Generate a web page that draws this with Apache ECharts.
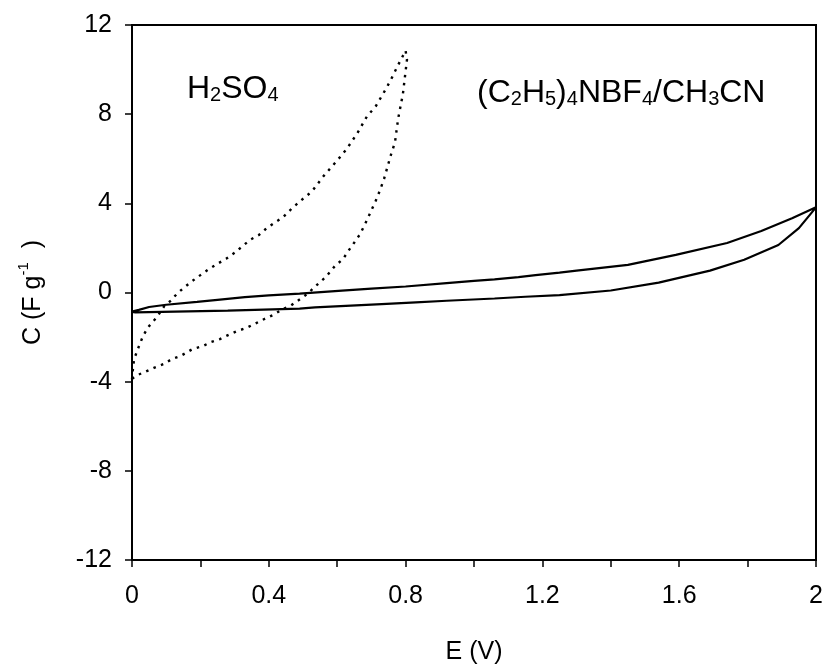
<!DOCTYPE html>
<html>
<head>
<meta charset="utf-8">
<script src="https://cdn.jsdelivr.net/npm/echarts@6/dist/echarts.min.js"></script>
<style>
html,body{margin:0;padding:0;background:#fff;}
#chart{width:827px;height:670px;}
</style>
</head>
<body>
<div id="chart"></div>
<script>
// H2SO4 loop (dotted): forward branch then reverse branch
const h2so4E = [0, 0.003, 0.006, 0.018, 0.032, 0.047, 0.073, 0.094, 0.114, 0.13, 0.149, 0.175, 0.2, 0.222, 0.25, 0.275, 0.3, 0.324, 0.345, 0.371, 0.394, 0.415, 0.442, 0.468, 0.491, 0.526, 0.559, 0.602, 0.628, 0.661, 0.687, 0.713, 0.745, 0.76, 0.778, 0.795, 0.8,
  0.804, 0.792, 0.778, 0.769, 0.757, 0.737, 0.725, 0.713, 0.7, 0.687, 0.667, 0.649, 0.632, 0.617, 0.594, 0.567, 0.532, 0.515, 0.491, 0.465, 0.439, 0.415, 0.38, 0.357, 0.333, 0.307, 0.281, 0.257, 0.231, 0.208, 0.178, 0.143, 0.117, 0.094, 0.064, 0.038, 0.012, 0];
const h2so4C = [-3.9, -3.4, -3.0, -2.5, -1.96, -1.56, -1.1, -0.62, -0.36, -0.08, 0.18, 0.5, 0.78, 1.02, 1.29, 1.51, 1.78, 2.09, 2.36, 2.58, 2.89, 3.11, 3.38, 3.78, 4.09, 4.53, 5.2, 5.96, 6.44, 7.2, 7.9, 8.36, 9.2, 9.64, 10.2, 10.7, 10.85,
  10.44, 8.9, 7.78, 6.74, 6.17, 5.1, 4.58, 4.13, 3.69, 3.25, 2.62, 2.22, 1.85, 1.5, 1.2, 0.7, 0.22, -0.04, -0.3, -0.58, -0.76, -0.99, -1.24, -1.42, -1.6, -1.73, -1.91, -2.09, -2.22, -2.4, -2.53, -2.84, -2.98, -3.2, -3.38, -3.56, -3.73, -3.87];

// (C2H5)4NBF4/CH3CN loop (solid): forward branch 0 -> 2, then reverse 2 -> 0
const teaE = [0, 0.02, 0.05, 0.1, 0.19, 0.25, 0.33, 0.4, 0.49, 0.614, 0.70, 0.80, 0.92, 1.0, 1.06, 1.13, 1.18, 1.25, 1.3, 1.45, 1.59, 1.74, 1.84, 1.93, 2.0,
  1.95, 1.89, 1.79, 1.69, 1.54, 1.4, 1.25, 1.15, 1.06, 0.92, 0.83, 0.73, 0.64, 0.535, 0.49, 0.28, 0.01, 0];
const teaC = [-0.85, -0.78, -0.65, -0.55, -0.42, -0.33, -0.21, -0.13, -0.05, 0.08, 0.17, 0.27, 0.42, 0.52, 0.59, 0.69, 0.78, 0.89, 0.98, 1.24, 1.69, 2.22, 2.76, 3.33, 3.82,
  2.89, 2.13, 1.47, 0.98, 0.44, 0.09, -0.12, -0.19, -0.27, -0.37, -0.44, -0.52, -0.59, -0.67, -0.72, -0.81, -0.89, -0.87];

const xTickLabels = ['0', '0.4', '0.8', '1.2', '1.6', '2'];
const yTickLabels = ['-12', '-8', '-4', '0', '4', '8', '12'];

const FONT = "'Liberation Sans', Arial, sans-serif";
const pairs = (xs, ys) => xs.map((x, i) => [x, ys[i]]);

const chart = echarts.init(document.getElementById('chart'), null, {renderer: 'canvas'});
chart.setOption({
  animation: false,
  backgroundColor: '#fff',
  grid: {left: 132, right: 11, top: 25, bottom: 105, show: true, borderColor: '#000', borderWidth: 2, backgroundColor: 'transparent'},
  xAxis: {
    type: 'value', min: 0, max: 2, interval: 0.2,
    name: 'E (V)', nameLocation: 'middle', nameGap: 80,
    nameTextStyle: {fontFamily: FONT, fontSize: 25, color: '#000'},
    axisLine: {onZero: false, lineStyle: {color: '#000', width: 2}},
    axisTick: {inside: false, length: 7, lineStyle: {color: '#000', width: 1.5}},
    splitLine: {show: false},
    axisLabel: {
      margin: 24, fontFamily: FONT, fontSize: 25, color: '#000',
      formatter: v => { const s = String(Math.round(v * 10) / 10); return xTickLabels.includes(s) ? s : ''; }
    }
  },
  yAxis: {
    type: 'value', min: -12, max: 12, interval: 4,
    name: '{a|C (F g}{sup|-1}{a|  )}', nameLocation: 'middle', nameGap: 86,
    nameTextStyle: {fontFamily: FONT, fontSize: 25, color: '#000',
      rich: {a: {fontFamily: FONT, fontSize: 25, color: '#000', verticalAlign: 'bottom', lineHeight: 30},
             sup: {fontFamily: FONT, fontSize: 15, color: '#000', verticalAlign: 'top', lineHeight: 12}}},
    axisLine: {onZero: false, lineStyle: {color: '#000', width: 2}},
    axisTick: {inside: false, length: 7, lineStyle: {color: '#000', width: 1.5}},
    splitLine: {show: false},
    axisLabel: {
      margin: 20, fontFamily: FONT, fontSize: 25, color: '#000',
      formatter: v => { const s = String(Math.round(v)); return yTickLabels.includes(s) ? s : ''; }
    }
  },
  series: [
    {
      name: 'H2SO4', type: 'line', data: pairs(h2so4E, h2so4C),
      symbol: 'none', smooth: false,
      lineStyle: {color: '#000', width: 2.4, type: [2.5, 5.5], cap: 'butt'}
    },
    {
      name: 'TEABF4/CH3CN', type: 'line', data: pairs(teaE, teaC),
      symbol: 'none', smooth: false,
      lineStyle: {color: '#000', width: 2.2}
    }
  ],
  graphic: [
    {
      type: 'text', left: 187, top: 73,
      style: {
        text: '{n|H}{s|2}{n|SO}{s|4}',
        rich: {
          n: {fontFamily: FONT, fontSize: 32, fill: '#000', verticalAlign: 'bottom'},
          s: {fontFamily: FONT, fontSize: 20, fill: '#000', verticalAlign: 'bottom', lineHeight: 12}
        }
      }
    },
    {
      type: 'text', left: 477, top: 77,
      style: {
        text: '{n|(C}{s|2}{n|H}{s|5}{n|)}{s|4}{n|NBF}{s|4}{n|/CH}{s|3}{n|CN}',
        rich: {
          n: {fontFamily: FONT, fontSize: 32, fill: '#000', verticalAlign: 'bottom'},
          s: {fontFamily: FONT, fontSize: 20, fill: '#000', verticalAlign: 'bottom', lineHeight: 12}
        }
      }
    }
  ]
});
</script>
</body>
</html>
